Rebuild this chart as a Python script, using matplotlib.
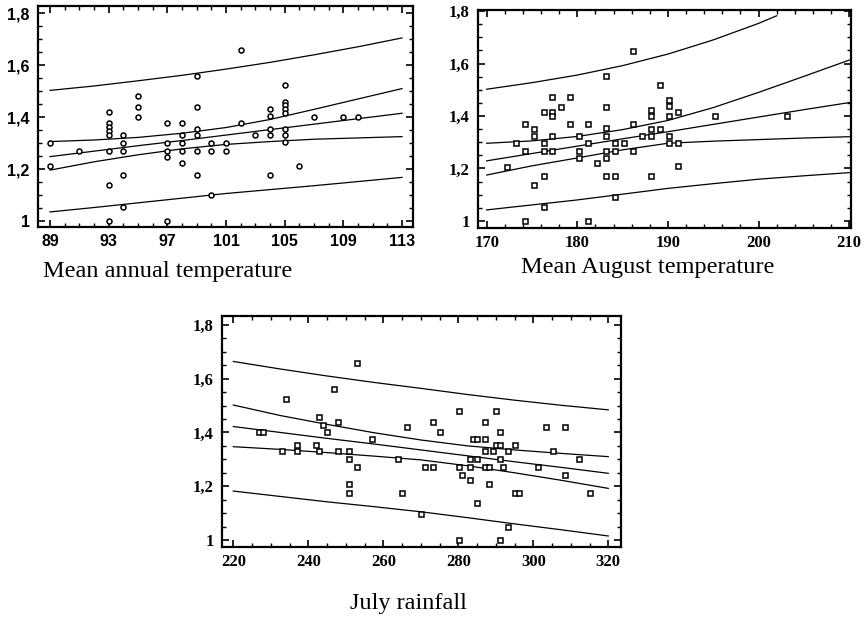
import matplotlib
matplotlib.use("Agg")
import matplotlib.pyplot as plt
from matplotlib.ticker import MultipleLocator, FixedLocator, FuncFormatter
from matplotlib.font_manager import FontProperties

# ---------------- data ----------------

# panel 1: mean annual temperature
x_annual = [89, 89, 91,
            93, 93, 93, 93, 93, 93, 93, 93,
            94, 94, 94, 94, 94,
            95, 95, 95,
            97, 97, 97, 97, 97,
            98, 98, 98, 98, 98,
            99, 99, 99, 99, 99, 99,
            100, 100, 100,
            101, 101,
            102, 102,
            103,
            104, 104, 104, 104, 104,
            105, 105, 105, 105, 105, 105, 105, 105,
            106, 107, 109, 110]
y_annual = [1.30, 1.21, 1.27,
            1.42, 1.377, 1.362, 1.347, 1.33, 1.27, 1.14, 1.0,
            1.33, 1.30, 1.27, 1.177, 1.055,
            1.48, 1.44, 1.40,
            1.377, 1.30, 1.27, 1.245, 1.0,
            1.377, 1.33, 1.30, 1.27, 1.222,
            1.56, 1.44, 1.355, 1.33, 1.27, 1.177,
            1.30, 1.27, 1.10,
            1.30, 1.27,
            1.657, 1.377,
            1.33,
            1.43, 1.405, 1.355, 1.33, 1.177,
            1.525, 1.46, 1.445, 1.43, 1.415, 1.355, 1.33, 1.305,
            1.21, 1.40, 1.40, 1.40]
xs_annual = [89, 92, 95, 98, 101, 104, 107, 110, 113]
pred_hi_annual = [1.503, 1.520, 1.540, 1.561, 1.585, 1.611, 1.640, 1.671, 1.705]
conf_hi_annual = [1.306, 1.312, 1.322, 1.338, 1.360, 1.391, 1.430, 1.470, 1.510]
fit_annual = [1.248, 1.269, 1.290, 1.310, 1.331, 1.352, 1.373, 1.394, 1.415]
conf_lo_annual = [1.196, 1.228, 1.255, 1.278, 1.295, 1.306, 1.315, 1.320, 1.325]
pred_lo_annual = [1.035, 1.052, 1.070, 1.088, 1.106, 1.121, 1.136, 1.152, 1.168]

# panel 2: mean August temperature
x_august = [172.2, 173.2, 174.2, 174.2, 174.2, 175.2, 175.2, 175.2,
            176.3, 176.3, 176.3, 176.3, 176.3,
            177.2, 177.2, 177.2, 177.2, 177.2, 178.2, 179.2, 179.2,
            180.2, 180.2, 180.2, 181.2, 181.2, 181.2, 182.2,
            183.2, 183.2, 183.2, 183.2, 183.2, 183.2, 183.2,
            184.2, 184.2, 184.2, 184.2, 185.2,
            186.1, 186.1, 186.1, 187.1,
            188.1, 188.1, 188.1, 188.1, 188.1,
            189.1, 189.1,
            190.1, 190.1, 190.1, 190.1, 190.1,
            191.1, 191.1, 191.1, 195.2, 203.1]
y_august = [1.207, 1.296, 1.37, 1.268, 1.0, 1.35, 1.325, 1.137,
            1.416, 1.296, 1.268, 1.173, 1.052,
            1.471, 1.416, 1.40, 1.325, 1.268, 1.436, 1.471, 1.37,
            1.325, 1.268, 1.239, 1.37, 1.296, 1.0, 1.22,
            1.552, 1.436, 1.353, 1.325, 1.268, 1.239, 1.173,
            1.296, 1.268, 1.173, 1.093, 1.296,
            1.648, 1.37, 1.268, 1.325,
            1.423, 1.40, 1.35, 1.325, 1.173,
            1.518, 1.35,
            1.461, 1.438, 1.40, 1.325, 1.296,
            1.416, 1.296, 1.211, 1.40, 1.40]
xs_august = [170, 175, 180, 185, 190, 195, 200, 205, 210]
xs_pred_hi_august = [170, 175, 180, 185, 190, 195, 200, 202]
pred_hi_august = [1.502, 1.527, 1.556, 1.592, 1.636, 1.690, 1.753, 1.782]
conf_hi_august = [1.296, 1.305, 1.322, 1.348, 1.383, 1.432, 1.490, 1.551, 1.613]
fit_august = [1.229, 1.257, 1.285, 1.313, 1.340, 1.368, 1.396, 1.424, 1.451]
conf_lo_august = [1.175, 1.210, 1.240, 1.271, 1.296, 1.304, 1.310, 1.316, 1.321]
pred_lo_august = [1.042, 1.061, 1.080, 1.102, 1.124, 1.142, 1.159, 1.172, 1.184]

# panel 3: July rainfall
x_rain = [226.8, 228.0, 234.0, 232.9, 236.9, 236.9, 242.0, 242.9, 242.9,
          244.0, 245.0, 246.9, 248.0, 248.0,
          250.9, 250.9, 250.9, 250.9, 252.9, 252.9,
          257.1, 264.0, 265.1, 266.2, 270.0, 271.1, 273.2, 273.2, 275.1,
          280.2, 280.2, 280.2, 281.1, 283.1, 283.1, 283.1,
          284.0, 284.9, 284.9, 284.9,
          287.1, 287.1, 287.1, 287.1, 288.2, 288.2, 289.2,
          290.0, 290.0, 291.1, 291.1, 291.1, 291.1, 292.0,
          293.2, 293.2, 295.1, 295.1, 296.3,
          301.3, 303.3, 305.3, 308.4, 308.4, 312.3, 315.1]
y_rain = [1.40, 1.40, 1.525, 1.33, 1.33, 1.354, 1.354, 1.459, 1.33,
          1.428, 1.40, 1.562, 1.44, 1.33,
          1.33, 1.30, 1.21, 1.176, 1.658, 1.273,
          1.376, 1.30, 1.176, 1.422, 1.097, 1.273, 1.44, 1.273, 1.40,
          1.48, 1.273, 1.0, 1.242, 1.223, 1.30, 1.273,
          1.376, 1.376, 1.30, 1.136,
          1.44, 1.376, 1.33, 1.273, 1.273, 1.21, 1.33,
          1.48, 1.354, 1.40, 1.354, 1.30, 1.0, 1.273,
          1.33, 1.047, 1.354, 1.176, 1.176,
          1.273, 1.422, 1.33, 1.422, 1.242, 1.30, 1.176]
xs_rain = [220, 232.5, 245, 257.5, 270, 282.5, 295, 307.5, 320]
pred_hi_rain = [1.664, 1.636, 1.610, 1.586, 1.564, 1.541, 1.520, 1.501, 1.484]
conf_hi_rain = [1.502, 1.463, 1.430, 1.399, 1.372, 1.350, 1.335, 1.322, 1.310]
fit_rain = [1.422, 1.400, 1.378, 1.357, 1.335, 1.313, 1.291, 1.270, 1.248]
conf_lo_rain = [1.347, 1.337, 1.325, 1.312, 1.298, 1.276, 1.250, 1.222, 1.192]
pred_lo_rain = [1.182, 1.162, 1.142, 1.124, 1.105, 1.083, 1.060, 1.038, 1.015]

xlabels = ["Mean annual temperature", "Mean August temperature", "July rainfall"]

# ---------------- drawing ----------------

comma = FuncFormatter(lambda v, p: ("%g" % round(v, 2)).replace(".", ","))


def panel(ax, x, y, marker, curves, xlim, ylim, xmajor, xminor, tickfont):
    for cx, cy in curves:
        ax.plot(cx, cy, color="black", lw=0.9)
    ax.plot(x, y, linestyle="none", marker=marker, ms=3.6, mfc="white",
            mec="black", mew=1.1)
    ax.set_xlim(*xlim)
    ax.set_ylim(*ylim)
    ax.xaxis.set_major_locator(FixedLocator(xmajor))
    ax.xaxis.set_minor_locator(MultipleLocator(xminor))
    ax.yaxis.set_major_locator(FixedLocator([1.0, 1.2, 1.4, 1.6, 1.8]))
    ax.yaxis.set_minor_locator(MultipleLocator(0.05))
    ax.yaxis.set_major_formatter(comma)
    ax.tick_params(which="both", direction="in", top=True, right=True)
    ax.tick_params(which="major", length=5, width=1.2)
    ax.tick_params(which="minor", length=3, width=1.0)
    ax.tick_params(axis="y", pad=6)
    ax.tick_params(axis="x", pad=5)
    for lab in ax.get_xticklabels() + ax.get_yticklabels():
        lab.set_fontproperties(tickfont)
    for s in ax.spines.values():
        s.set_linewidth(1.6)


sans_bold = FontProperties(family="Liberation Sans", weight="bold", size=11.5)
serif_bold = FontProperties(family="Liberation Serif", weight="bold", size=12)

fig = plt.figure(figsize=(8.65, 6.19), dpi=100)
W, H = 865, 619


def box(l, t, r, b):
    return [l / W, 1 - b / H, (r - l) / W, (b - t) / H]


ax1 = fig.add_axes(box(38, 6, 413, 227))
panel(ax1, x_annual, y_annual, "o",
      [(xs_annual, pred_hi_annual), (xs_annual, conf_hi_annual),
       (xs_annual, fit_annual), (xs_annual, conf_lo_annual),
       (xs_annual, pred_lo_annual)],
      (88.18, 113.75), (0.977, 1.828), [89, 93, 97, 101, 105, 109, 113], 1,
      sans_bold)

ax2 = fig.add_axes(box(478, 10, 851, 228))
panel(ax2, x_august, y_august, "s",
      [(xs_pred_hi_august, pred_hi_august), (xs_august, conf_hi_august),
       (xs_august, fit_august), (xs_august, conf_lo_august),
       (xs_august, pred_lo_august)],
      (169.04, 210.2), (0.973, 1.804), [170, 180, 190, 200, 210], 2,
      serif_bold)

ax3 = fig.add_axes(box(222, 316, 621, 547))
panel(ax3, x_rain, y_rain, "s",
      [(xs_rain, pred_hi_rain), (xs_rain, conf_hi_rain), (xs_rain, fit_rain),
       (xs_rain, conf_lo_rain), (xs_rain, pred_lo_rain)],
      (216.99, 323.4), (0.974, 1.833), [220, 240, 260, 280, 300, 320], 5,
      serif_bold)

label_font = dict(family="Liberation Serif", fontsize=17.5)
fig.text(168 / W, 1 - 271 / H, xlabels[0], ha="center", va="center", **label_font)
fig.text(648 / W, 1 - 268 / H, xlabels[1], ha="center", va="center", **label_font)
fig.text(408 / W, 1 - 604 / H, xlabels[2], ha="center", va="center", **label_font)

fig.savefig("out.png", dpi=100)
